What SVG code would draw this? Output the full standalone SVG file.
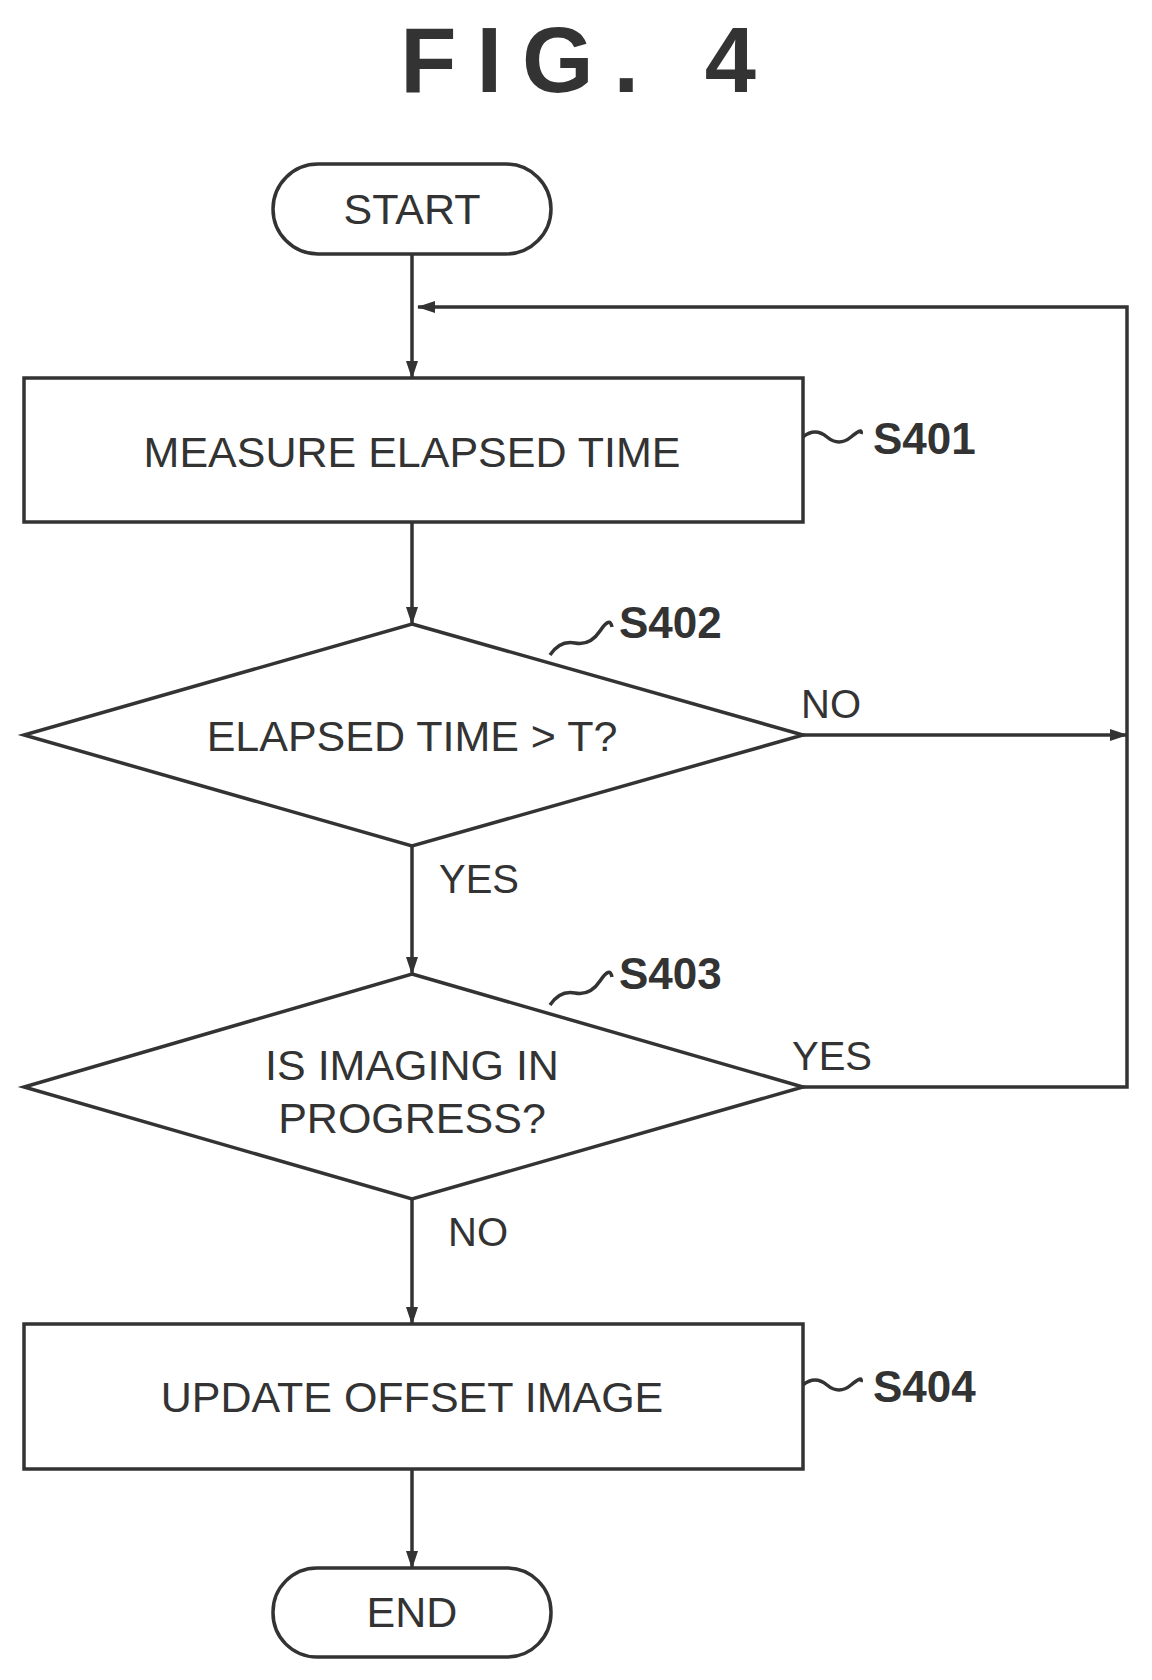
<svg xmlns="http://www.w3.org/2000/svg" width="1152" height="1680" viewBox="0 0 1152 1680">
<style>
.s{fill:none;stroke:#333;stroke-width:3.5}
.t{font-family:"Liberation Sans",Arial,sans-serif;fill:#333;font-size:43px;text-anchor:middle}
.l{font-family:"Liberation Sans",Arial,sans-serif;fill:#333;font-size:44px;font-weight:bold}
.c{font-family:"Liberation Sans",Arial,sans-serif;fill:#333;font-size:40px}
</style>
<defs><marker id="a" markerWidth="18" markerHeight="12" refX="17" refY="6" orient="auto" markerUnits="userSpaceOnUse"><path d="M0,0 L18,6 L0,12 Z" fill="#333"/></marker></defs>
<rect width="1152" height="1680" fill="#fff"/>
<text x="588" y="92" font-family="Liberation Sans,Arial,sans-serif" font-size="92" font-weight="bold" fill="#333" text-anchor="middle" letter-spacing="20">FIG. 4</text>
<g id="start"><rect class="s" x="273" y="164" width="278" height="90" rx="45"/><text class="t" x="412" y="224">START</text></g>
<g id="s401"><rect class="s" x="24" y="378" width="779" height="144"/><text class="t" x="412" y="467">MEASURE ELAPSED TIME</text>
<path class="s" d="M803,437 q12,-10 24,0 t24,0 t10,-3"/><text class="l" x="873" y="454">S401</text></g>
<g id="s402"><path class="s" d="M412,624 L803,735 L412,846 L24,735 Z"/><text class="t" x="412" y="751">ELAPSED TIME &gt; T?</text>
<path class="s" d="M550,655 q10,-15 25,-12 t25,-12 t12,-4"/><text class="l" x="619" y="638">S402</text></g>
<g id="s403"><path class="s" d="M412,974 L803,1087 L412,1199 L24,1087 Z"/><text class="t" x="412" y="1080">IS IMAGING IN</text><text class="t" x="412" y="1133">PROGRESS?</text>
<path class="s" d="M550,1005 q10,-15 25,-12 t25,-12 t12,-4"/><text class="l" x="619" y="989">S403</text></g>
<g id="s404"><rect class="s" x="24" y="1324" width="779" height="145"/><text class="t" x="412" y="1412">UPDATE OFFSET IMAGE</text>
<path class="s" d="M803,1385 q12,-10 24,0 t24,0 t10,-3"/><text class="l" x="873" y="1402">S404</text></g>
<g id="end"><rect class="s" x="273" y="1568" width="278" height="89" rx="44"/><text class="t" x="412" y="1627">END</text></g>
<g id="connectors">
<path class="s" d="M412,254 V378" marker-end="url(#a)"/>
<path class="s" d="M412,522 V624" marker-end="url(#a)"/>
<path class="s" d="M412,846 V974" marker-end="url(#a)"/>
<path class="s" d="M412,1199 V1324" marker-end="url(#a)"/>
<path class="s" d="M412,1469 V1568" marker-end="url(#a)"/>
<path class="s" d="M803,735 H1127" marker-end="url(#a)"/>
<path class="s" d="M803,1087 H1127 V307 H418" marker-end="url(#a)"/>
<text class="c" x="801" y="718">NO</text>
<text class="c" x="439" y="893">YES</text>
<text class="c" x="792" y="1070">YES</text>
<text class="c" x="448" y="1246">NO</text>
</g>
</svg>
